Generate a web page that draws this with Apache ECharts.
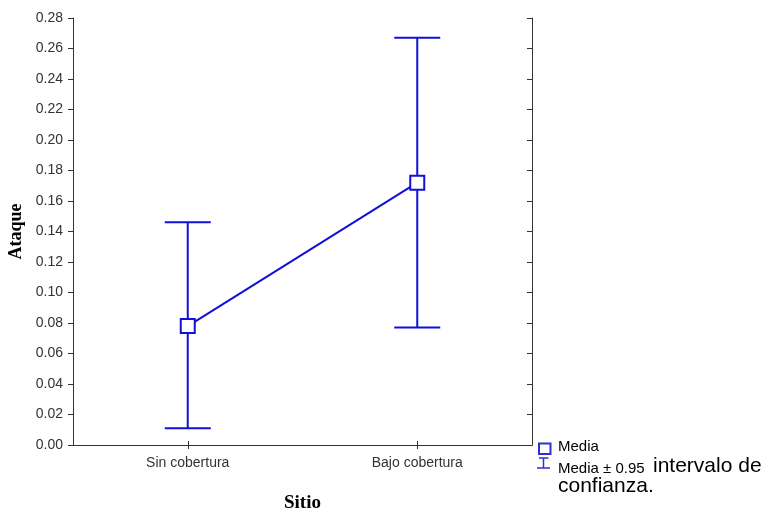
<!DOCTYPE html>
<html>
<head>
<meta charset="utf-8">
<script src="https://cdn.jsdelivr.net/npm/echarts@6/dist/echarts.min.js"></script>
<style>html,body{margin:0;padding:0;background:#fff;}#c{width:769px;height:514px;}</style>
</head>
<body>
<div id="c"></div>
<script>
const categories = ['Sin cobertura', 'Bajo cobertura'];
const means = [0.078, 0.172];
const lower = [0.011, 0.077];
const upper = [0.146, 0.267];
const yTicks = [0, 0.02, 0.04, 0.06, 0.08, 0.10, 0.12, 0.14, 0.16, 0.18, 0.20, 0.22, 0.24, 0.26, 0.28];

const BLUE = '#1010d8';
const chart = echarts.init(document.getElementById('c'));
const errData = categories.map((c, i) => [i, lower[i], upper[i]]);

chart.setOption({
  backgroundColor: '#fff',
  animation: false,
  grid: { left: 73, right: 237, top: 18, bottom: 69, containLabel: false, outerBoundsMode: 'none' },
  xAxis: [{
    type: 'category', data: categories, boundaryGap: true,
    axisLine: { show: true, lineStyle: { color: '#333', width: 1 } },
    axisTick: { show: true, alignWithLabel: true, inside: true, length: 4, lineStyle: { color: '#333' } },
    axisLabel: { color: '#333', fontFamily: 'Arial, Liberation Sans', fontSize: 14, margin: 11 },
    name: 'Sitio', nameLocation: 'middle', nameGap: 49,
    nameTextStyle: { fontFamily: 'Times New Roman, Liberation Serif', fontWeight: 'bold', fontSize: 19, color: '#000' }
  }, {
    type: 'category', data: categories, boundaryGap: true, position: 'top',
    axisLine: { show: true, lineStyle: { color: '#333', width: 1 } },
    axisTick: { show: true, alignWithLabel: true, inside: true, length: 4, lineStyle: { color: '#333' } },
    axisLabel: { show: false }
  }],
  yAxis: [{
    type: 'value', min: 0, max: 0.28, interval: 0.02,
    axisLine: { show: true, lineStyle: { color: '#333', width: 1 } },
    axisTick: { show: true, length: 5, lineStyle: { color: '#333' } },
    splitLine: { show: false },
    axisLabel: { color: '#333', fontFamily: 'Arial, Liberation Sans', fontSize: 14, margin: 10,
      formatter: v => { const t = yTicks.find(x => Math.abs(x - v) < 1e-9); return (t === undefined ? v : t).toFixed(2); } },
    name: 'Ataque', nameLocation: 'middle', nameGap: 46, nameRotate: 90,
    nameTextStyle: { fontFamily: 'Times New Roman, Liberation Serif', fontWeight: 'bold', fontSize: 18, color: '#000' }
  }, {
    type: 'value', min: 0, max: 0.28, interval: 0.02, position: 'right',
    axisLine: { show: true, lineStyle: { color: '#333', width: 1 } },
    axisTick: { show: true, inside: true, length: 5, lineStyle: { color: '#333' } },
    splitLine: { show: false },
    axisLabel: { show: false }
  }],
  series: [{
    type: 'custom',
    data: errData,
    renderItem: function (params, api) {
      const x = api.value(0);
      const lo = api.coord([x, api.value(1)]);
      const hi = api.coord([x, api.value(2)]);
      const hw = 23;
      const st = { stroke: BLUE, lineWidth: 2, fill: null };
      return { type: 'group', children: [
        { type: 'line', shape: { x1: lo[0], y1: lo[1], x2: hi[0], y2: hi[1] }, style: st },
        { type: 'line', shape: { x1: hi[0] - hw, y1: hi[1], x2: hi[0] + hw, y2: hi[1] }, style: st },
        { type: 'line', shape: { x1: lo[0] - hw, y1: lo[1], x2: lo[0] + hw, y2: lo[1] }, style: st }
      ]};
    },
    z: 2
  }, {
    type: 'line',
    data: means,
    symbol: 'rect', symbolSize: 14,
    lineStyle: { color: BLUE, width: 2 },
    itemStyle: { color: '#fff', borderColor: BLUE, borderWidth: 2 },
    z: 3
  }],
  graphic: [
    { type: 'rect', shape: { x: 539, y: 443.5, width: 11.5, height: 10.5 }, style: { fill: '#fff', stroke: '#3030d0', lineWidth: 2 } },
    { type: 'line', shape: { x1: 543.5, y1: 458, x2: 543.5, y2: 468 }, style: { stroke: '#3030d0', lineWidth: 1.5 } },
    { type: 'line', shape: { x1: 539, y1: 458, x2: 548.5, y2: 458 }, style: { stroke: '#3030d0', lineWidth: 1.5 } },
    { type: 'line', shape: { x1: 537, y1: 468, x2: 550, y2: 468 }, style: { stroke: '#3030d0', lineWidth: 1.5 } },
    { type: 'text', x: 558, y: 446.5, style: { text: 'Media', font: '15px Arial, Liberation Sans', fill: '#000', verticalAlign: 'middle' } },
    { type: 'text', x: 558, y: 469, style: { text: 'Media ± 0.95', font: '15px Arial, Liberation Sans', fill: '#000', verticalAlign: 'middle' } },
    { type: 'text', x: 653, y: 466.5, style: { text: 'intervalo de', font: '21px Arial, Liberation Sans', fill: '#000', verticalAlign: 'middle' } },
    { type: 'text', x: 558, y: 486.5, style: { text: 'confianza.', font: '21px Arial, Liberation Sans', fill: '#000', verticalAlign: 'middle' } }
  ]
});
</script>
</body>
</html>
